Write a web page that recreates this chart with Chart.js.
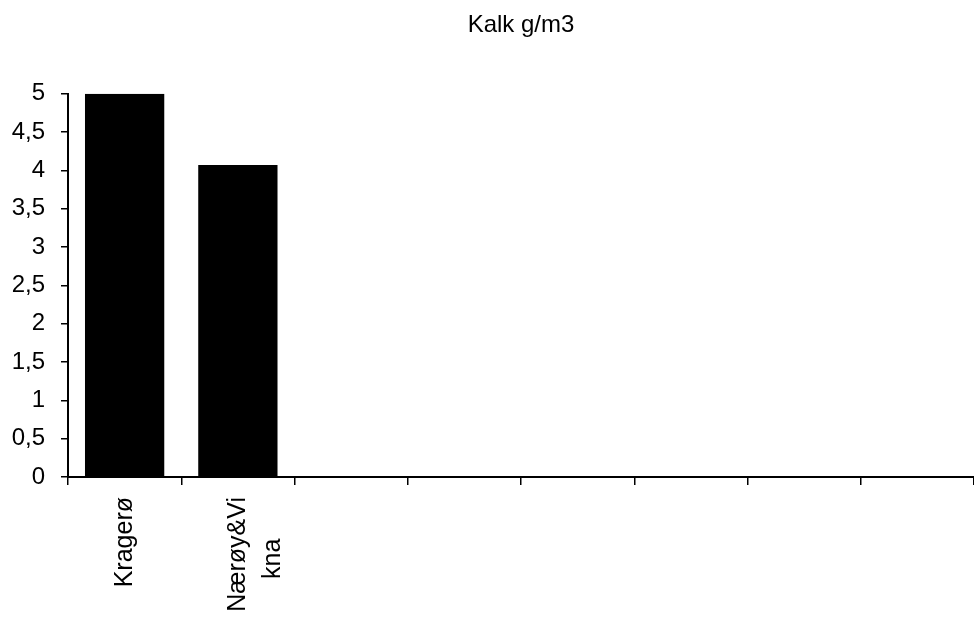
<!DOCTYPE html>
<html lang="no">

<head>
  <meta charset="UTF-8" />
  <meta name="viewport" content="width=device-width, initial-scale=1.0" />
  <title>Kalk g/m3</title>
  <script src="https://cdn.jsdelivr.net/npm/chart.js"></script>
  <style>
    body {
      margin: 0;
      background: #fff;
    }

    .grafico {
      width: 974px;
      height: 621px;
    }
  </style>
</head>

<body>
  <div class="grafico">
    <canvas id="myChart" width="974" height="621"></canvas>
  </div>

  <script>
    // data
    const kommuner = ['Kragerø', ['Nærøy&Vi', 'kna      '], '', '', '', '', '', ''];
    const kalk = [5, 4.07, null, null, null, null, null, null];
    const yTicks = [0, 0.5, 1, 1.5, 2, 2.5, 3, 3.5, 4, 4.5, 5];

    Chart.defaults.font.family = "'Liberation Sans', Arial, sans-serif";
    Chart.defaults.color = '#000';

    const dados = {
      labels: kommuner,
      datasets: [{
        label: 'Kalk g/m3',
        data: kalk,
        backgroundColor: '#000',
        borderWidth: 0,
        barPercentage: 0.7,
        categoryPercentage: 1
      }]
    };

    const config = {
      type: 'bar',
      data: dados,
      options: {
        responsive: false,
        animation: false,
        layout: { padding: 0 },
        plugins: {
          legend: { display: false },
          tooltip: { enabled: false },
          title: {
            display: true,
            text: 'Kalk g/m3',
            fullSize: false,
            font: { size: 24, weight: 'normal' },
            padding: { top: 11, bottom: 54 }
          }
        },
        scales: {
          x: {
            grid: {
              offset: true,
              drawOnChartArea: false,
              drawTicks: true,
              tickLength: 8,
              color: '#000',
              lineWidth: 1.5
            },
            border: { display: true, color: '#000', width: 2 },
            ticks: {
              minRotation: 90,
              maxRotation: 90,
              autoSkip: false,
              padding: 12,
              font: { size: 25, lineHeight: 1.4 }
            },
            afterFit: function (scale) {
              scale.height = 144;
            }
          },
          y: {
            min: 0,
            max: 5,
            afterBuildTicks: function (scale) {
              scale.ticks = yTicks.map(function (v) { return { value: v }; });
            },
            grid: {
              drawOnChartArea: false,
              drawTicks: true,
              tickLength: 7,
              color: '#000',
              lineWidth: 1.5
            },
            border: { display: true, color: '#000', width: 2 },
            ticks: {
              padding: 16,
              font: { size: 24 },
              callback: function (v) {
                return String(v).replace('.', ',');
              }
            },
            afterFit: function (scale) {
              scale.width = 68;
            }
          }
        }
      }
    };

    let myChart = new Chart(document.getElementById('myChart'), config);
  </script>
</body>

</html>
